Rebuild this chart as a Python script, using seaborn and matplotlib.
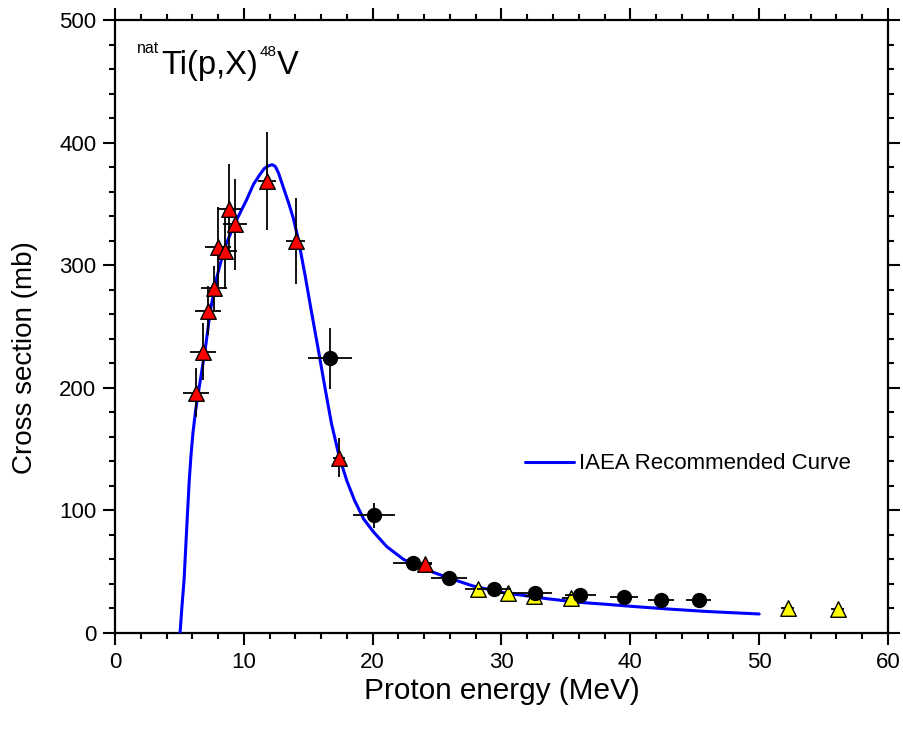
import numpy as np
import matplotlib
matplotlib.use("Agg")
import matplotlib.pyplot as plt
import seaborn as sns
import pandas as pd
from matplotlib.ticker import MultipleLocator

# IAEA recommended curve
curve_e = [5.05, 5.2, 5.36, 5.56, 5.75, 5.9, 6.05, 6.25, 6.5, 7.0, 7.4, 7.9, 8.5, 9.3,
           10.2, 10.75, 11.25, 11.6, 11.9, 12.2, 12.45, 12.7, 13.05, 13.5, 13.85, 14.25,
           14.75, 15.25, 15.8, 16.3, 16.8, 17.4, 18.0, 18.6, 19.3, 20.05, 21.1, 22.4,
           23.9, 25.75, 27.8, 30.15, 33.5, 36.0, 38.0, 40.0, 43.0, 46.0, 50.0]
curve_xs = [0, 22, 43, 84, 122, 145, 163, 181, 198, 231, 263, 290, 314, 334,
            353, 366, 374, 379, 381, 382, 380.5, 375, 364, 350, 338, 320,
            292, 262, 230, 200, 171, 144, 124, 108, 93, 82.6, 70.4, 60,
            52.7, 45.4, 38.3, 32.9, 28, 25, 23.5, 21.8, 19.5, 17.5, 15.5]

# black circles
circ_e = [16.7, 20.1, 23.1, 25.9, 29.4, 32.6, 36.1, 39.5, 42.4, 45.3]
circ_xs = [224, 96, 57, 44.6, 35.5, 32.4, 31, 29.1, 26.9, 26.9]
circ_dx = [1.7, 1.6, 1.5, 1.4, 1.3, 1.3, 1.2, 1.1, 1.0, 1.0]
circ_dy = [25, 10, 6, 5, 4, 3.5, 3.5, 3, 3, 3]

# red triangles
red_e = [6.29, 6.81, 7.2, 7.71, 8.02, 8.54, 8.85, 9.32, 11.83, 14.03, 17.39, 24.07]
red_xs = [196, 229.5, 263, 281.6, 314.6, 311.6, 345.6, 333.4, 369, 320, 143, 56.5]
red_dx = [1.0, 1.0, 1.0, 1.0, 1.0, 0.9, 0.9, 0.9, 0.7, 0.75, 0.5, 0.5]
red_dy = [20, 23, 20, 18, 33, 31, 37, 37, 40, 35, 16, 5]

# yellow triangles
yel_e = [28.2, 30.5, 32.5, 35.4, 52.2, 56.1]
yel_xs = [35.5, 33, 30.2, 28.4, 20.1, 19.6]
yel_dx = [1.0, 0.8, 0.7, 0.7, 0.5, 0.5]
yel_dy = [5, 4, 4, 4, 4, 4]

sns.set_theme(style="ticks")
plt.rcParams['font.family'] = ['Liberation Sans', 'DejaVu Sans']
for k in ["text.color", "axes.labelcolor", "xtick.color", "ytick.color", "axes.edgecolor"]:
    plt.rcParams[k] = "black"

W, H = 904, 730
fig = plt.figure(figsize=(W / 100, H / 100), dpi=100)
ax = fig.add_axes([0.1272, 0.1329, 0.8551, 0.8397])

curve = pd.DataFrame({"E": curve_e, "xs": curve_xs})
sns.lineplot(data=curve, x="E", y="xs", ax=ax, color="#0000ff", lw=2.2,
             label="IAEA Recommended Curve", zorder=3, sort=False)
ax.lines[0].set_solid_joinstyle("round")

sets = [
    (yel_e, yel_xs, yel_dx, yel_dy, "^", "#ffff00", 125),
    (circ_e, circ_xs, circ_dx, circ_dy, "o", "black", 100),
    (red_e, red_xs, red_dx, red_dy, "^", "#ff0000", 125),
]
z = 4
for e, s, dx, dy, mk, col, size in sets:
    ax.errorbar(e, s, xerr=dx, yerr=dy, fmt="none", ecolor="black",
                elinewidth=1.3, capsize=0, zorder=z)
    sns.scatterplot(x=e, y=s, ax=ax, marker=mk, color=col, s=size,
                    edgecolor="black", linewidth=1.0, zorder=z + 1, legend=False)
    z += 2

ax.set_xlim(0, 60)
ax.set_ylim(0, 500)
ax.xaxis.set_major_locator(MultipleLocator(10))
ax.xaxis.set_minor_locator(MultipleLocator(2))
ax.yaxis.set_major_locator(MultipleLocator(100))
ax.yaxis.set_minor_locator(MultipleLocator(20))
ax.tick_params(which="both", direction="out", top=True, right=True,
               width=1.5, labelsize=16, pad=5)
ax.tick_params(which="major", length=8.5)
ax.tick_params(which="minor", length=4.5)
for sp in ax.spines.values():
    sp.set_linewidth(1.6)

ax.set_xlabel("Proton energy (MeV)", fontsize=21.4, labelpad=3)
ax.set_ylabel("Cross section (mb)", fontsize=20, labelpad=15)
ax.yaxis.label.set_y(0.449)

# reaction label: nat superscript, Ti(p,X), 48 superscript, V
fig.text(137 / W, 1 - 53 / H, "nat", fontsize=11.5, va="baseline", ha="left")
fig.text(161 / W, 1 - 74 / H, "Ti(p,X)", fontsize=23.5, va="baseline", ha="left")
fig.text(260 / W, 1 - 56 / H, "48", fontsize=11, va="baseline", ha="left")
fig.text(277 / W, 1 - 74 / H, "V", fontsize=23.5, va="baseline", ha="left")

ax.legend(loc="center left", bbox_to_anchor=(0.530, 0.276), frameon=False,
          fontsize=16, handlelength=2.2, handletextpad=0.25,
          borderpad=0, borderaxespad=0)

fig.savefig("out.png", dpi=100)
